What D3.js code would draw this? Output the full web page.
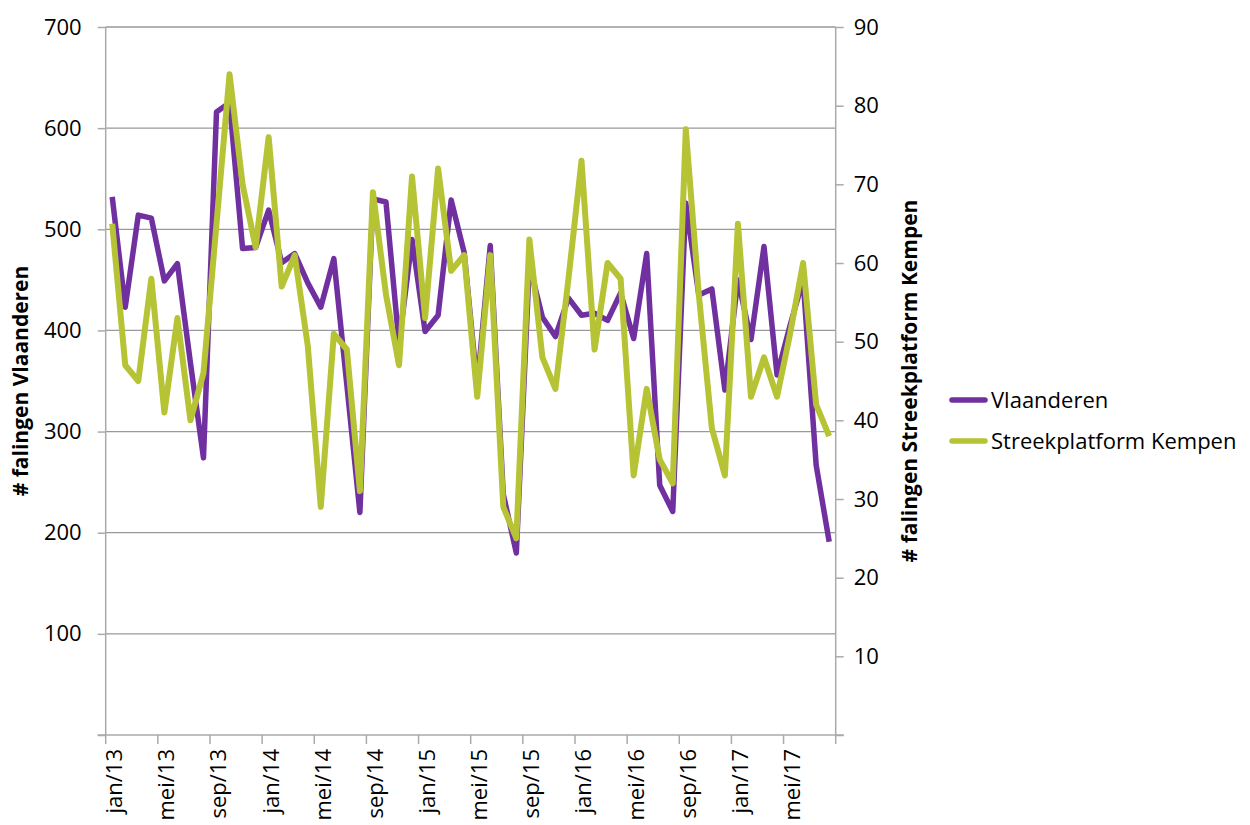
<!DOCTYPE html>
<html lang="nl">

<head>
  <meta charset="UTF-8">
  <title># falingen Vlaanderen en Streekplatform Kempen</title>
  <script src="https://d3js.org/d3.v7.min.js"></script>
  <style>
    body { margin: 0; background: #fff; }
    text { font-family: "Open Sans", sans-serif; fill: #000; }
  </style>
</head>

<body>
  <script>
    // months jan/13 .. aug/17
    const monthNames = ['jan', 'feb', 'mrt', 'apr', 'mei', 'jun', 'jul', 'aug', 'sep', 'okt', 'nov', 'dec'];
    const years = ['13', '14', '15', '16', '17'];
    const months = [];
    years.forEach(y => monthNames.forEach(m => months.push(m + '/' + y)));
    months.splice(56);

    // # falingen Vlaanderen (left axis)
    const vlaanderen = [
      532, 423, 514, 511, 449, 466, 368, 274, 616, 625, 481, 482,
      519, 467, 476, 447, 423, 471, 346, 220, 530, 527, 387, 490,
      399, 415, 529, 477, 345, 484, 238, 180, 465, 413, 394, 432,
      415, 417, 410, 437, 392, 476, 247, 221, 526, 435, 441, 341,
      450, 391, 483, 356, 405, 450, 267, 191
    ];

    // # falingen Streekplatform Kempen (right axis)
    const kempen = [
      65, 47, 45, 58, 41, 53, 40, 46, 65, 84, 70, 62,
      76, 57, 61, 49.5, 29, 51, 49, 31, 69, 56, 47, 71,
      53, 72, 59, 61, 43, 61, 29, 25, 63, 48, 44, 58,
      73, 49, 60, 58, 33, 44, 35, 32, 77, 56, 39, 33,
      65, 43, 48, 43, 51, 60, 42, 38
    ];

    const leftTicks = [0, 100, 200, 300, 400, 500, 600, 700];
    const rightTicks = [0, 10, 20, 30, 40, 50, 60, 70, 80, 90];

    const w = 1250;
    const h = 825;
    const pLeft = 105.7, pRight = 835.7, pTop = 27, pBottom = 735;

    const svg = d3.select('body')
      .append('svg')
      .attr('width', w)
      .attr('height', h)

    const x = d3.scaleBand()
      .domain(months)
      .range([pLeft, pRight])
      .padding(0);

    const yL = d3.scaleLinear().domain([0, 700]).range([pBottom, pTop]);
    const yR = d3.scaleLinear().domain([0, 90]).range([pBottom, pTop]);

    const cx = d => x(d) + x.bandwidth() / 2;

    // gridlines
    svg.append('g')
      .selectAll('line')
      .data(leftTicks.slice(1))
      .enter()
      .append('line')
      .attr('x1', pLeft)
      .attr('x2', pRight)
      .attr('y1', d => yL(d))
      .attr('y2', d => yL(d))
      .attr('stroke', '#999')
      .attr('stroke-width', 1.3)

    // left axis
    const axL = svg.append('g')
      .attr('transform', `translate(${pLeft},0)`)
      .call(d3.axisLeft(yL).tickValues(leftTicks).tickSize(8).tickPadding(16)
        .tickFormat(d => d === 0 ? '' : d))
    axL.select('.domain').remove()
    axL.selectAll('line').attr('stroke', '#aaa').attr('stroke-width', 1.5)
    axL.selectAll('text').style('font-size', '22px')

    // right axis
    const axR = svg.append('g')
      .attr('transform', `translate(${pRight},0)`)
      .call(d3.axisRight(yR).tickValues(rightTicks).tickSize(8).tickPadding(10)
        .tickFormat(d => d === 0 ? '' : d))
    axR.select('.domain').remove()
    axR.selectAll('line').attr('stroke', '#aaa').attr('stroke-width', 1.5)
    axR.selectAll('text').style('font-size', '22px')

    // axis lines
    svg.append('line')
      .attr('x1', pLeft).attr('x2', pLeft).attr('y1', pTop).attr('y2', pBottom)
      .attr('stroke', '#aaa').attr('stroke-width', 1.5)
    svg.append('line')
      .attr('x1', pRight).attr('x2', pRight).attr('y1', pTop).attr('y2', pBottom)
      .attr('stroke', '#aaa').attr('stroke-width', 1.5)

    // bottom axis: ticks on category boundaries, labels on category centres
    const shown = months.filter((m, i) => i % 4 === 0);
    svg.append('line')
      .attr('x1', pLeft - 8).attr('x2', pRight + 8).attr('y1', pBottom).attr('y2', pBottom)
      .attr('stroke', '#aaa').attr('stroke-width', 1.5)
    svg.append('g')
      .selectAll('line')
      .data(shown.concat([null]))
      .enter()
      .append('line')
      .attr('x1', d => d === null ? pRight : x(d))
      .attr('x2', d => d === null ? pRight : x(d))
      .attr('y1', pBottom)
      .attr('y2', pBottom + 9)
      .attr('stroke', '#aaa')
      .attr('stroke-width', 1.5)

    const axB = svg.append('g')
      .attr('transform', `translate(0,${pBottom})`)
      .call(d3.axisBottom(x).tickValues(shown).tickSize(0))
    axB.select('.domain').remove()
    axB.selectAll('text')
      .style('font-size', '22px')
      .attr('text-anchor', 'end')
      .attr('transform', 'rotate(-90)')
      .attr('x', -14)
      .attr('y', 0)
      .attr('dy', '0.45em')

    // lines
    const lineL = d3.line().x((d, i) => cx(months[i])).y(d => yL(d));
    const lineR = d3.line().x((d, i) => cx(months[i])).y(d => yR(d));

    svg.append('path')
      .datum(vlaanderen)
      .attr('d', lineL)
      .attr('fill', 'none')
      .attr('stroke', '#7030a0')
      .attr('stroke-width', 5.5)
      .attr('stroke-linejoin', 'round')

    svg.append('path')
      .datum(kempen)
      .attr('d', lineR)
      .attr('fill', 'none')
      .attr('stroke', '#b5c334')
      .attr('stroke-width', 6)
      .attr('stroke-linejoin', 'round')

    // axis titles
    svg.append('text')
      .attr('transform', `translate(28,${(pTop + pBottom) / 2}) rotate(-90)`)
      .attr('text-anchor', 'middle')
      .style('font-size', '21px')
      .style('font-weight', 'bold')
      .text('# falingen Vlaanderen')

    svg.append('text')
      .attr('transform', `translate(917,${(pTop + pBottom) / 2}) rotate(-90)`)
      .attr('text-anchor', 'middle')
      .style('font-size', '21px')
      .style('font-weight', 'bold')
      .text('# falingen Streekplatform Kempen')

    // legend
    const legend = [
      { name: 'Vlaanderen', color: '#7030a0' },
      { name: 'Streekplatform Kempen', color: '#b5c334' }
    ];
    const lg = svg.append('g')
      .selectAll('g')
      .data(legend)
      .enter()
      .append('g')
      .attr('transform', (d, i) => `translate(952,${400 + i * 41})`)
    lg.append('line')
      .attr('x1', 0).attr('x2', 33)
      .attr('stroke', d => d.color)
      .attr('stroke-width', 5.5)
      .attr('stroke-linecap', 'round')
    lg.append('text')
      .attr('x', 39)
      .attr('dy', '0.35em')
      .style('font-size', '22px')
      .text(d => d.name)
  </script>
</body>

</html>
